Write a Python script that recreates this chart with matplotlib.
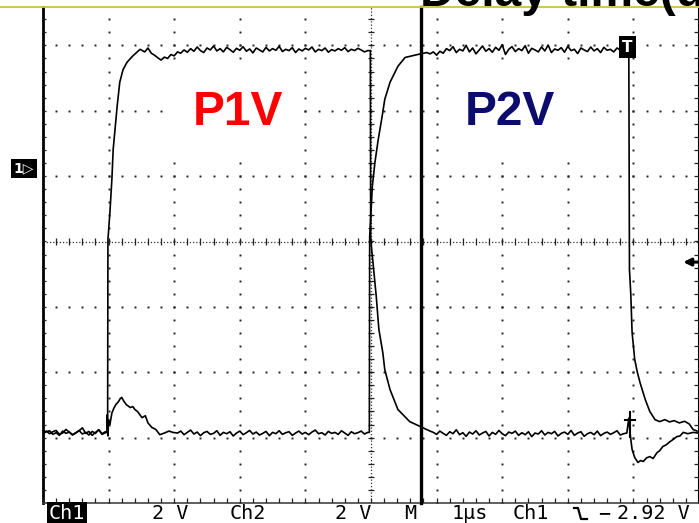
import numpy as np
import matplotlib.pyplot as plt
from matplotlib.lines import Line2D

W, H = 699, 523

# scope record: time in µs from the left edge (1 µs/div), volts about the centre line (2 V/div)
p1_low_a = [-5.84, -5.80, -5.88, -5.82, -5.78, -5.90, -5.86, -5.75, -5.83, -5.92,
            -5.85, -5.79, -5.70, -5.87, -5.81, -5.93, -5.84, -5.76, -5.88, -5.82]
p1_rise_t = [0.985, 0.99, 1.02, 1.05, 1.07, 1.13, 1.17, 1.22, 1.28, 1.36, 1.48]
p1_rise_v = [-5.85, 0.06, 0.89, 1.90, 2.82, 4.13, 4.87, 5.26, 5.48, 5.66, 5.88]
p1_high = [5.80, 5.92, 5.76, 5.70, 5.62, 5.55, 5.64, 5.60, 5.72, 5.68,
           5.80, 5.76, 5.86, 5.79, 5.90, 5.82, 5.95, 5.84, 5.78, 5.92,
           5.86, 5.98, 5.83, 5.90, 5.80, 5.94, 5.87, 5.79, 5.91, 5.85,
           5.96, 5.82, 5.89, 5.77, 5.92, 5.86, 5.80, 5.94, 5.83, 5.90,
           5.85, 5.97, 5.81, 5.88, 5.84, 5.93, 5.78, 5.89, 5.83, 5.91,
           5.86, 5.95, 5.80, 5.88, 5.84, 5.92, 5.79, 5.87, 5.83, 5.90,
           5.85, 5.93, 5.81, 5.88, 5.84, 5.91, 5.86, 5.80, 5.84]
p1_fall_t = [4.99, 4.995, 5.03, 5.08, 5.12, 5.18, 5.21, 5.29, 5.41, 5.59, 5.75, 5.90]
p1_fall_v = [5.84, 0.06, -0.64, -1.68, -2.69, -3.40, -3.92, -4.53, -5.14, -5.51, -5.66, -5.80]
p1_low_b = [-5.84, -5.90, -5.80, -5.87, -5.93, -5.82, -5.88, -5.76, -5.91, -5.85,
            -5.96, -5.83, -5.89, -5.79, -5.92, -5.86, -5.81, -5.95, -5.84, -5.90,
            -5.78, -5.88, -5.94, -5.83, -5.87, -5.80, -5.93, -5.85, -5.91, -5.82,
            -5.97, -5.86, -5.89, -5.79, -5.92, -5.84, -5.88, -5.81, -5.95, -5.87,
            -5.83, -5.90, -5.78, -5.93, -5.86, -5.82, -5.96, -5.88, -5.84, -5.91,
            -5.80, -5.94, -5.87, -5.83, -5.90, -5.85, -5.79, -5.92, -5.88, -5.86]
p1_dip_t = [8.93, 8.95, 8.98, 9.02, 9.07, 9.11, 9.15, 9.20, 9.25, 9.30, 9.36,
            9.40, 9.45, 9.50, 9.56, 9.61, 9.66, 9.71, 9.76, 9.83, 9.91, 9.99]
p1_dip_v = [-5.40, -5.88, -6.36, -6.61, -6.76, -6.70, -6.73, -6.62, -6.58, -6.64, -6.46,
            -6.40, -6.27, -6.22, -6.12, -6.05, -5.97, -5.95, -5.84, -5.88, -5.84, -5.86]

p2_low_a = [-5.88, -5.82, -5.79, -5.90, -5.85, -5.93, -5.80, -5.87, -5.83, -5.91,
            -5.86, -5.78, -5.89, -5.84, -5.92, -5.81, -5.87, -5.76, -5.90, -5.85]
p2_bump_t = [0.975, 0.98, 0.99, 1.00, 1.02, 1.05, 1.08, 1.11, 1.15, 1.18, 1.20, 1.23, 1.27,
             1.33, 1.37, 1.40, 1.44, 1.51, 1.56, 1.60, 1.66, 1.72, 1.78, 1.85, 1.92, 1.98]
p2_bump_v = [-5.84, -5.30, -5.95, -5.45, -5.60, -5.25, -5.10, -4.99, -4.90, -4.80, -4.77, -4.88, -4.99,
             -5.08, -5.05, -5.14, -5.20, -5.39, -5.33, -5.55, -5.69, -5.75, -5.91, -5.86, -5.80, -5.84]
p2_low_b = [-5.86, -5.80, -5.91, -5.84, -5.77, -5.89, -5.83, -5.94, -5.85, -5.81,
            -5.90, -5.87, -5.79, -5.93, -5.84, -5.88, -5.82, -5.95, -5.86, -5.80,
            -5.91, -5.85, -5.78, -5.89, -5.83, -5.92, -5.87, -5.81, -5.94, -5.84,
            -5.88, -5.79, -5.90, -5.85, -5.82, -5.93, -5.86, -5.80, -5.89, -5.84,
            -5.91, -5.83, -5.77, -5.88, -5.85, -5.92, -5.81, -5.87, -5.84, -5.90,
            -5.79, -5.86, -5.93, -5.82, -5.88, -5.85, -5.80, -5.89, -5.84]
p2_rise_t = [4.975, 4.98, 5.02, 5.06, 5.11, 5.17, 5.21, 5.29, 5.41, 5.52, 5.71, 5.85]
p2_rise_v = [-5.84, 0.15, 1.68, 2.42, 3.12, 3.83, 4.35, 4.87, 5.36, 5.63, 5.72, 5.78]
p2_high = [5.74, 5.80, 5.70, 5.82, 5.76, 5.90, 5.84, 5.96, 5.78, 5.88,
           5.83, 6.00, 5.80, 5.92, 5.74, 5.86, 5.98, 5.82, 5.90, 5.79,
           5.94, 5.85, 6.02, 5.72, 5.88, 5.96, 5.81, 5.90, 5.84, 5.99,
           5.76, 5.91, 5.86, 5.80, 5.95, 5.83, 6.01, 5.78, 5.89, 5.85,
           5.93, 5.79, 5.97, 5.84, 5.88, 5.75, 5.92, 5.86, 5.81, 5.95,
           5.83, 5.90, 5.78, 5.94, 5.85, 5.88, 5.80, 5.92, 5.86, 5.84,
           5.88]
p2_fall_t = [8.93, 8.94, 8.96, 8.98, 9.02, 9.06, 9.10, 9.18, 9.25, 9.33,
             9.40, 9.48, 9.55, 9.62, 9.70, 9.78, 9.85, 9.91, 9.97]
p2_fall_v = [5.86, -0.86, -1.60, -2.78, -3.61, -4.00, -4.31, -4.83, -5.20, -5.45,
             -5.51, -5.45, -5.52, -5.48, -5.55, -5.50, -5.58, -5.75, -5.80]

# plateaus are sampled every 50 ns
p1_t = np.concatenate([np.linspace(0, 0.95, len(p1_low_a)), p1_rise_t,
                       np.linspace(1.55, 4.95, len(p1_high)), p1_fall_t,
                       np.linspace(5.95, 8.90, len(p1_low_b)), p1_dip_t])
p1_v = np.concatenate([p1_low_a, p1_rise_v, p1_high, p1_fall_v, p1_low_b, p1_dip_v])
p2_t = np.concatenate([np.linspace(0, 0.95, len(p2_low_a)), p2_bump_t,
                       np.linspace(2.05, 4.95, len(p2_low_b)), p2_rise_t,
                       np.linspace(5.90, 8.90, len(p2_high)), p2_fall_t])
p2_v = np.concatenate([p2_low_a, p2_bump_v, p2_low_b, p2_rise_v, p2_high, p2_fall_v])

cursor_t = 5.76
trig_t = 8.93
trig_level = -0.63
status = [('2 V', 152), ('Ch2', 230), ('2 V', 335), ('M', 404),
          ('1µs', 452), ('Ch1', 513), ('−', 598), ('2.92 V', 617)]

fig = plt.figure(figsize=(W / 100, H / 100), dpi=100)
fig.patch.set_facecolor('white')

# slide title running off the top
fig.text(420 / W, 1 - 6 / H, 'Delay time(us)', fontsize=34.5, weight='bold',
         family='Liberation Sans', va='baseline', ha='left', color='black')
fig.add_artist(Line2D([0, 1], [1 - 7 / H, 1 - 7 / H], color='#c9c43a', lw=1.3))

ax = fig.add_axes([43 / W, 20 / H, 656 / W, 1.0])
ax.set_xlim(0, 10)
ax.set_ylim(-8, 8)
ax.axis('off')
top = 7.17

# graticule
dot_t = np.arange(0, 10.01, 0.2)
dot_v = np.arange(-8, top, 0.4)
for k in [1, 2, 3, 4, 6, 7, 8, 9]:
    ax.plot(np.full(len(dot_v), k), dot_v, 's', ms=1.4, mew=0, color='#222222')
for m in [-6, -4, -2, 2, 4, 6]:
    ax.plot(dot_t, np.full(len(dot_t), m), 's', ms=1.4, mew=0, color='#222222')
ax.plot([5, 5], [-8, top], color='#333333', lw=0.9, ls=(0, (1, 1.6)))
ax.plot([0, 10], [0, 0], color='#333333', lw=0.9, ls=(0, (1, 1.6)))
ax.hlines(dot_v, 4.95, 5.05, color='#222222', lw=0.9)
ax.vlines(dot_t, -0.1, 0.1, color='#222222', lw=0.9)

# screen frame with edge ticks
ax.plot([0, 0], [-8, top], color='black', lw=2, clip_on=False)
ax.plot([10, 10], [-8, top], color='black', lw=1.5, clip_on=False)
ax.plot([0, 10], [-8, -8], color='#444444', lw=1.2, clip_on=False)
ax.hlines(dot_v, 0, 0.05, color='#222222', lw=0.9)
ax.hlines(dot_v, 9.93, 10, color='#222222', lw=0.9)
ax.vlines(dot_t, -8, -7.85, color='#222222', lw=0.9)

ax.plot([cursor_t, cursor_t], [-8, top], color='black', lw=2.4, clip_on=False)

ax.plot(p1_t, p1_v, color='black', lw=1.2, zorder=5)
ax.plot(p2_t, p2_v, color='black', lw=1.2, zorder=5)

# trigger markers
ax.text(trig_t - 0.02, 5.95, 'T', color='white', weight='bold', fontsize=11,
        ha='center', va='center', zorder=6,
        bbox=dict(facecolor='black', edgecolor='none', pad=2.6))
ax.plot([trig_t + 0.02, trig_t + 0.02], [-5.23, -5.97], color='black', lw=1.5, zorder=6)
ax.plot([trig_t - 0.06, trig_t + 0.09], [-5.45, -5.45], color='black', lw=1.5, zorder=6)
ax.annotate('', xy=(9.76, trig_level), xytext=(9.98, trig_level),
            arrowprops=dict(arrowstyle='-|>', lw=2.2, mutation_scale=11, color='black',
                            shrinkA=0, shrinkB=0))

fig.text(24 / W, 1 - 168 / H, '1▷', color='white', fontsize=10, weight='bold',
         ha='center', va='center',
         bbox=dict(facecolor='black', edgecolor='none', pad=1.8))

# signal labels
fig.text(193 / W, 1 - 125 / H, 'P1V', fontsize=34.5, weight='bold', color='#ff0000',
         family='Liberation Sans', va='baseline', ha='left',
         bbox=dict(facecolor='white', edgecolor='none', pad=14))
fig.text(465 / W, 1 - 125 / H, 'P2V', fontsize=34.5, weight='bold', color='#0c0c6c',
         family='Liberation Sans', va='baseline', ha='left',
         bbox=dict(facecolor='white', edgecolor='none', pad=14))

# readout line
base = 4 / H
fig.text(49 / W, base, 'Ch1', family='DejaVu Sans Mono', fontsize=14.5, color='white',
         va='baseline', ha='left', bbox=dict(facecolor='black', edgecolor='none', pad=1.2))
for label, x in status:
    fig.text(x / W, base, label, family='DejaVu Sans Mono', fontsize=14.5,
             color='black', va='baseline', ha='left')
edge_x = np.array([574, 578, 581, 587]) / W
edge_y = 1 - np.array([508, 508, 519, 519]) / H
fig.add_artist(Line2D(edge_x, edge_y, color='black', lw=1.6))

fig.savefig('out.png', dpi=100)
